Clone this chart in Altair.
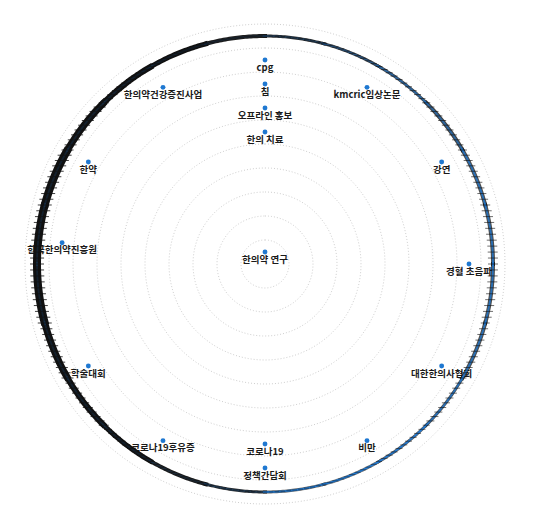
import altair as alt
import pandas as pd

# ---- labelled nodes (level = ring index from the centre, angle = degrees clockwise from north)
node_names = ["한의약 연구", "한의 치료", "오프라인 홍보", "침", "cpg", "kmcric임상논문", "강연",
              "경혈 초음파", "대한한의사협회", "비만", "정책간담회", "코로나19", "코로나19후유증",
              "학술대회", "한국한의약진흥원", "한약", "한의약건강증진사업"]
node_levels = [0, 5, 6, 7, 8, 8, 8, 8, 8, 8, 8, 7, 8, 8, 8, 8, 8]
node_angles = [0, 0, 0, 0, 0, 30, 60, 90, 120, 150, 180, 180, 210, 240, 276, 300, 330]

# ---- dotted guide circles
guide_levels = [1, 2, 3, 4, 5, 6, 7, 8, 9, 10]

# ---- dense outer ring of (unreadable) overlapping nodes at level 9, read by 15-degree sector:
#      core thickness (px), spread of the overlapping labels (px) and ink density
outer_level = 9
ring_start = [0, 15, 30, 45, 60, 75, 90, 105, 120, 135, 150, 165, 180, 195, 210, 225, 240, 255, 270, 285, 300, 315, 330, 345]
ring_end = [15, 30, 45, 60, 75, 90, 105, 120, 135, 150, 165, 180, 195, 210, 225, 240, 255, 270, 285, 300, 315, 330, 345, 360]
ring_core = [3, 3, 3, 4, 4, 4, 4, 4, 3, 3, 3, 3, 3, 4, 5, 6, 7, 8, 8, 8, 7, 6, 5, 4]
ring_spread = [5, 6, 7, 8, 9, 10, 10, 9, 8, 7, 6, 5, 5, 6, 8, 10, 12, 14, 14, 14, 12, 10, 8, 6]
ring_density = [0.9, 0.85, 0.8, 0.8, 0.75, 0.75, 0.75, 0.75, 0.75, 0.7, 0.6, 0.65, 0.9, 0.95, 1, 1, 1, 1, 1, 1, 1, 1, 1, 0.95]

UNIT = 24.0  # pixels per level
xs = alt.Scale(domain=[(8 - 265) / UNIT, (532 - 265) / UNIT], nice=False, zero=False)
ys = alt.Scale(domain=[(264 - 512) / UNIT, (264 - 8) / UNIT], nice=False, zero=False)

nodes = pd.DataFrame({"name": node_names, "level": node_levels, "angle": node_angles})
guides = pd.DataFrame({"level": guide_levels})
ring = pd.DataFrame({"start": ring_start, "end": ring_end, "core": ring_core,
                     "spread": ring_spread, "density": ring_density})

X = alt.X("px:Q", scale=xs, axis=None)
Y = alt.Y("py:Q", scale=ys, axis=None)
R_OUT = outer_level + 0.5

circles = alt.Chart(guides).transform_calculate(
    t="sequence(0, 361, 2)"
).transform_flatten(["t"]).transform_calculate(
    px="datum.level * sin(datum.t * PI / 180)",
    py="datum.level * cos(datum.t * PI / 180)",
).mark_line(color="#cfcfcf", strokeWidth=1, strokeDash=[1, 2]).encode(
    x=X, y=Y, detail="level:N", order="t:Q"
)

ring_pts = alt.Chart(ring).transform_calculate(
    t="sequence(datum.start - 0.5, datum.end + 1, 0.5)"
).transform_flatten(["t"]).transform_calculate(
    px=f"{R_OUT} * sin(datum.t * PI / 180)",
    py=f"{R_OUT} * cos(datum.t * PI / 180)",
    blue_op="clamp((1 - datum.density) * 3.2, 0.15, 1)",
)

black_core = ring_pts.mark_line(color="#111111", strokeCap="butt").encode(
    x=X, y=Y, detail="start:N", order="t:Q",
    size=alt.Size("core:Q", scale=None),
    opacity=alt.Opacity("density:Q", scale=None),
)

blue_line = ring_pts.mark_line(color="#1f78d1", strokeWidth=1.8, strokeCap="butt").encode(
    x=X, y=Y, detail="start:N", order="t:Q",
    opacity=alt.Opacity("blue_op:Q", scale=None),
)

ticks = alt.Chart(ring).transform_calculate(
    t="sequence(datum.start, datum.end, 1.5)"
).transform_flatten(["t"]).transform_calculate(
    px=f"{R_OUT} * sin(datum.t * PI / 180)",
    py=f"{R_OUT} * cos(datum.t * PI / 180)",
    x1=f"datum.px - datum.spread / {2 * UNIT}",
    x2=f"datum.px + datum.spread / {2 * UNIT}",
    op="datum.density * 0.8",
).mark_rule(color="#111111", strokeWidth=1).encode(
    x=alt.X("x1:Q", scale=xs, axis=None), x2="x2:Q", y=Y,
    opacity=alt.Opacity("op:Q", scale=None),
)

base = alt.Chart(nodes).transform_calculate(
    px="(datum.level + 0.5) * sin(datum.angle * PI / 180)",
    py="(datum.level + 0.5) * cos(datum.angle * PI / 180)",
).encode(x=X, y=Y)

dots = base.mark_circle(size=24, color="#1f78d1", opacity=1)
labels = base.mark_text(
    baseline="top", align="center", dy=2.5, fontSize=9.5, fontWeight="bold",
    font="Noto Sans CJK KR", color="#1a1a1a"
).encode(text="name:N")

chart = alt.layer(circles, dots, labels, black_core, blue_line, ticks).properties(
    width=524, height=504, padding=0, background="white"
).configure_view(strokeWidth=0)

chart.save("out.html", embed_options={"renderer": "svg", "actions": False})
